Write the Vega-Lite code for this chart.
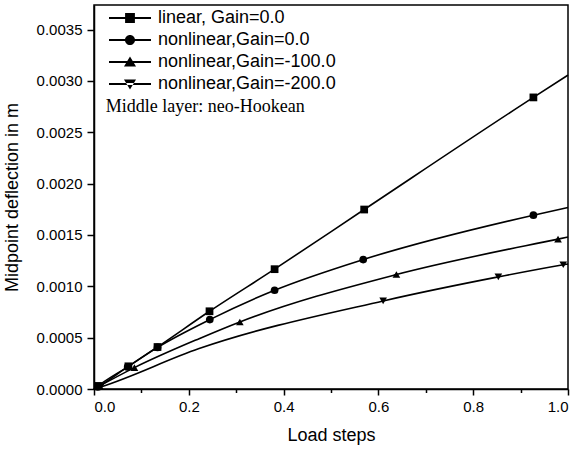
{
  "$schema": "https://vega.github.io/schema/vega-lite/v6.json",
  "width": 474,
  "height": 384,
  "padding": {"left": 3, "top": 5, "right": 5, "bottom": 2},
  "background": "white",
  "config": {
    "view": {"stroke": "black", "strokeWidth": 1.5},
    "font": "Liberation Sans",
    "axis": {
      "grid": false,
      "domainColor": "black",
      "domainWidth": 1.5,
      "tickColor": "black",
      "tickWidth": 1.5,
      "labelColor": "black",
      "labelFont": "Liberation Sans",
      "labelFontSize": 15,
      "titleFont": "Liberation Sans",
      "titleFontSize": 18,
      "titleFontWeight": "normal",
      "titleColor": "black"
    }
  },
  "datasets": {
    "lines": [
      {"series": "linear, Gain=0.0", "x": 0, "y": 0},
      {"series": "linear, Gain=0.0", "x": 0.0085, "y": 0.00003},
      {"series": "linear, Gain=0.0", "x": 0.0726, "y": 0.000221},
      {"series": "linear, Gain=0.0", "x": 0.134, "y": 0.000409},
      {"series": "linear, Gain=0.0", "x": 0.2437, "y": 0.000757},
      {"series": "linear, Gain=0.0", "x": 0.381, "y": 0.001167},
      {"series": "linear, Gain=0.0", "x": 0.57, "y": 0.001748},
      {"series": "linear, Gain=0.0", "x": 0.927, "y": 0.00284},
      {"series": "linear, Gain=0.0", "x": 1.0, "y": 0.003057},
      {"series": "nonlinear,Gain=0.0", "x": 0, "y": 0},
      {"series": "nonlinear,Gain=0.0", "x": 0.008, "y": 0.00002},
      {"series": "nonlinear,Gain=0.0", "x": 0.071, "y": 0.000215},
      {"series": "nonlinear,Gain=0.0", "x": 0.134, "y": 0.000405},
      {"series": "nonlinear,Gain=0.0", "x": 0.2443, "y": 0.000676},
      {"series": "nonlinear,Gain=0.0", "x": 0.381, "y": 0.000962},
      {"series": "nonlinear,Gain=0.0", "x": 0.568, "y": 0.001261},
      {"series": "nonlinear,Gain=0.0", "x": 0.927, "y": 0.001693},
      {"series": "nonlinear,Gain=0.0", "x": 1.0, "y": 0.001768},
      {"series": "nonlinear,Gain=-100.0", "x": 0, "y": 0},
      {"series": "nonlinear,Gain=-100.0", "x": 0.012, "y": 0.00003},
      {"series": "nonlinear,Gain=-100.0", "x": 0.0853, "y": 0.000208},
      {"series": "nonlinear,Gain=-100.0", "x": 0.2217, "y": 0.00049},
      {"series": "nonlinear,Gain=-100.0", "x": 0.3077, "y": 0.000653},
      {"series": "nonlinear,Gain=-100.0", "x": 0.638, "y": 0.001115},
      {"series": "nonlinear,Gain=-100.0", "x": 0.979, "y": 0.00146},
      {"series": "nonlinear,Gain=-100.0", "x": 1.0, "y": 0.00148},
      {"series": "nonlinear,Gain=-200.0", "x": 0, "y": 0},
      {"series": "nonlinear,Gain=-200.0", "x": 0.014, "y": 0.00002},
      {"series": "nonlinear,Gain=-200.0", "x": 0.2217, "y": 0.000394},
      {"series": "nonlinear,Gain=-200.0", "x": 0.61, "y": 0.000858},
      {"series": "nonlinear,Gain=-200.0", "x": 0.853, "y": 0.001092},
      {"series": "nonlinear,Gain=-200.0", "x": 0.99, "y": 0.00121},
      {"series": "nonlinear,Gain=-200.0", "x": 1.0, "y": 0.001218}
    ],
    "markers": [
      {"series": "linear, Gain=0.0", "x": 0.0085, "y": 0.00003},
      {"series": "linear, Gain=0.0", "x": 0.0726, "y": 0.000221},
      {"series": "linear, Gain=0.0", "x": 0.134, "y": 0.000409},
      {"series": "linear, Gain=0.0", "x": 0.2437, "y": 0.000757},
      {"series": "linear, Gain=0.0", "x": 0.381, "y": 0.001167},
      {"series": "linear, Gain=0.0", "x": 0.57, "y": 0.001748},
      {"series": "linear, Gain=0.0", "x": 0.927, "y": 0.00284},
      {"series": "nonlinear,Gain=0.0", "x": 0.008, "y": 0.00002},
      {"series": "nonlinear,Gain=0.0", "x": 0.071, "y": 0.000215},
      {"series": "nonlinear,Gain=0.0", "x": 0.134, "y": 0.000405},
      {"series": "nonlinear,Gain=0.0", "x": 0.2443, "y": 0.000676},
      {"series": "nonlinear,Gain=0.0", "x": 0.381, "y": 0.000962},
      {"series": "nonlinear,Gain=0.0", "x": 0.568, "y": 0.001261},
      {"series": "nonlinear,Gain=0.0", "x": 0.927, "y": 0.001693},
      {"series": "nonlinear,Gain=-100.0", "x": 0.012, "y": 0.00003},
      {"series": "nonlinear,Gain=-100.0", "x": 0.0853, "y": 0.000208},
      {"series": "nonlinear,Gain=-100.0", "x": 0.3077, "y": 0.000653},
      {"series": "nonlinear,Gain=-100.0", "x": 0.638, "y": 0.001115},
      {"series": "nonlinear,Gain=-100.0", "x": 0.979, "y": 0.00146},
      {"series": "nonlinear,Gain=-200.0", "x": 0.014, "y": 0.00002},
      {"series": "nonlinear,Gain=-200.0", "x": 0.61, "y": 0.000858},
      {"series": "nonlinear,Gain=-200.0", "x": 0.853, "y": 0.001092},
      {"series": "nonlinear,Gain=-200.0", "x": 0.99, "y": 0.00121}
    ],
    "notes": [
      {"label": "Middle layer: neo-Hookean", "x": 0.025, "y": 0.00275}
    ]
  },
  "layer": [
    {
      "data": {"name": "lines"},
      "mark": {"type": "line", "interpolate": "monotone", "color": "black", "strokeWidth": 1.6},
      "encoding": {
        "x": {
          "field": "x", "type": "quantitative",
          "scale": {"domain": [0, 1.0], "nice": false},
          "axis": {
            "title": "Load steps",
            "titlePadding": 12,
            "values": [0, 0.1, 0.2, 0.3, 0.4, 0.5, 0.6, 0.7, 0.8, 0.9, 1.0],
            "labelExpr": "round(datum.value*10)%2===0 ? format(datum.value,'.1f') : ''",
            "tickSize": {"condition": {"test": "round(datum.value*10)%2===0", "value": 6}, "value": 3.5},
            "labelPadding": 4
          }
        },
        "y": {
          "field": "y", "type": "quantitative",
          "scale": {"domain": [0, 0.00374], "nice": false},
          "axis": {
            "title": "Midpoint deflection in m",
            "titlePadding": 15,
            "values": [0, 0.00025, 0.0005, 0.00075, 0.001, 0.00125, 0.0015, 0.00175, 0.002, 0.00225, 0.0025, 0.00275, 0.003, 0.00325, 0.0035],
            "labelExpr": "round(datum.value*4000)%2===0 ? format(datum.value,'.4f') : ''",
            "tickSize": {"condition": {"test": "round(datum.value*4000)%2===0", "value": 7}, "value": 4},
            "labelPadding": 5
          }
        },
        "detail": {"field": "series"}
      }
    },
    {
      "data": {"name": "markers"},
      "mark": {"type": "point", "filled": true, "color": "black", "opacity": 1},
      "encoding": {
        "x": {"field": "x", "type": "quantitative"},
        "y": {"field": "y", "type": "quantitative"},
        "shape": {
          "field": "series", "type": "nominal",
          "scale": {
            "domain": ["linear, Gain=0.0", "nonlinear,Gain=0.0", "nonlinear,Gain=-100.0", "nonlinear,Gain=-200.0"],
            "range": ["square", "circle", "triangle-up", "triangle-down"]
          },
          "legend": null
        },
        "size": {
          "field": "series", "type": "nominal",
          "scale": {
            "domain": ["linear, Gain=0.0", "nonlinear,Gain=0.0", "nonlinear,Gain=-100.0", "nonlinear,Gain=-200.0"],
            "range": [60, 58, 100, 100]
          },
          "legend": null
        }
      }
    },
    {
      "data": {"name": "markers"},
      "transform": [{"filter": "false"}],
      "mark": {"type": "point", "filled": true, "color": "black", "opacity": 1, "size": 196},
      "encoding": {
        "x": {"field": "x", "type": "quantitative"},
        "y": {"field": "y", "type": "quantitative"},
        "shape": {
          "field": "series", "type": "nominal",
          "scale": {
            "domain": ["linear, Gain=0.0", "nonlinear,Gain=0.0", "nonlinear,Gain=-100.0", "nonlinear,Gain=-200.0"],
            "range": [
              "M-3,-0.14H3V0.14H-3ZM-0.7,-0.7H0.7V0.7H-0.7Z",
              "M-3,-0.14H3V0.14H-3ZM0.72,0A0.72,0.72,0,1,1,-0.72,0A0.72,0.72,0,1,1,0.72,0Z",
              "M-3,-0.14H3V0.14H-3ZM0,-0.78L0.86,0.65H-0.86Z",
              "M-3,-0.14H3V0.14H-3ZM0,0.78L0.86,-0.65H-0.86Z"
            ]
          },
          "legend": {
            "title": null,
            "orient": "none",
            "legendX": 27,
            "legendY": 4,
            "symbolSize": 196,
            "symbolStrokeWidth": 0,
            "symbolFillColor": "black",
            "labelFont": "Liberation Sans",
            "labelFontSize": 18,
            "labelColor": "black",
            "labelOffset": 19,
            "rowPadding": 4,
            "labelLimit": 300
          }
        }
      }
    },
    {
      "data": {"name": "notes"},
      "mark": {"type": "text", "font": "Liberation Serif", "fontSize": 18, "align": "left", "baseline": "middle", "color": "black"},
      "encoding": {
        "x": {"field": "x", "type": "quantitative"},
        "y": {"field": "y", "type": "quantitative"},
        "text": {"field": "label"}
      }
    }
  ],
  "resolve": {"scale": {"shape": "independent", "size": "independent"}}
}
